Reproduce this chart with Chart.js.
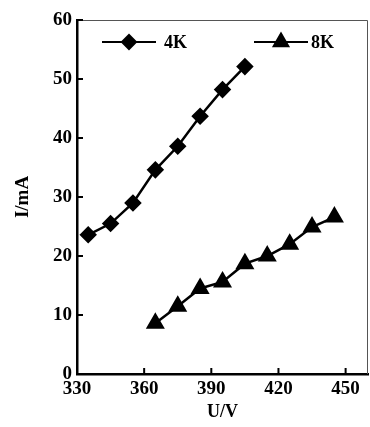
<!DOCTYPE html>
<html>
<head>
<meta charset="utf-8">
<script src="https://cdn.jsdelivr.net/npm/chart.js@4/dist/chart.umd.min.js"></script>
<style>
    html, body { margin: 0; padding: 0; background: #fff; overflow: hidden; }
    #wrap { width: 379px; height: 427px; }
</style>
</head>
<body>
<div id="wrap"><canvas id="ivChart"></canvas></div>
<script>
// ======================
// DATA
// ======================
const voltage4K = [335, 345, 355, 365, 375, 385, 395, 405];
const current4K = [23.6, 25.5, 29.0, 34.6, 38.6, 43.7, 48.2, 52.1];

const voltage8K = [365, 375, 385, 395, 405, 415, 425, 435, 445];
const current8K = [8.6, 11.5, 14.5, 15.6, 18.7, 20.0, 22.0, 24.9, 26.6];

const xTicks = [330, 360, 390, 420, 450];
const yTicks = [0, 10, 20, 30, 40, 50, 60];

const seriesNames = ["4K", "8K"];


// ======================
// HELPERS
// ======================
const serif = "'Liberation Serif', 'Times New Roman', serif";
const toPoints = (xs, ys) => xs.map((x, i) => ({ x: x, y: ys[i] }));


// ======================
// FRAME, INWARD TICKS, LEGEND
// ======================
const framePlugin = {
    id: "frame",
    afterDraw(chart) {
        const ctx = chart.ctx;
        const a = chart.chartArea;
        const xs = chart.scales.x;
        const ys = chart.scales.y;

        ctx.save();
        // thin top and right border
        ctx.strokeStyle = "#555";
        ctx.lineWidth = 1;
        ctx.beginPath();
        ctx.moveTo(a.left, a.top + 0.5);
        ctx.lineTo(a.right - 0.5, a.top + 0.5);
        ctx.lineTo(a.right - 0.5, a.bottom);
        ctx.stroke();

        // inward tick marks
        ctx.strokeStyle = "#000";
        ctx.lineWidth = 2;
        ctx.beginPath();
        xTicks.forEach(v => {
            const px = xs.getPixelForValue(v);
            ctx.moveTo(px, a.bottom);
            ctx.lineTo(px, a.bottom - 6);
        });
        yTicks.forEach(v => {
            const py = ys.getPixelForValue(v);
            ctx.moveTo(a.left, py);
            ctx.lineTo(a.left + 6, py);
        });
        ctx.stroke();

        // legend inside the plot
        const ly = a.top + 22;
        const items = [
            { x0: a.left + 25, gap: 62, ds: chart.data.datasets[0] },
            { x0: a.left + 177, gap: 57, ds: chart.data.datasets[1] }
        ];
        items.forEach(it => {
            ctx.strokeStyle = "#000";
            ctx.lineWidth = 2;
            ctx.beginPath();
            ctx.moveTo(it.x0, ly);
            ctx.lineTo(it.x0 + 54, ly);
            ctx.stroke();
            ctx.fillStyle = "#000";
            Chart.helpers.drawPoint(ctx, {
                pointStyle: it.ds.pointStyle,
                radius: it.ds.pointRadius,
                rotation: 0,
                borderWidth: 1
            }, it.x0 + 27, ly);
            ctx.font = "bold 18px " + serif;
            ctx.textBaseline = "middle";
            ctx.textAlign = "left";
            ctx.fillText(it.ds.label, it.x0 + it.gap, ly + 1);
        });
        ctx.restore();
    }
};


// ======================
// CHART SETUP
// ======================
const ivChart = new Chart(document.getElementById("ivChart"), {
    type: "line",
    data: {
        datasets: [
            {
                label: seriesNames[0],
                data: toPoints(voltage4K, current4K),
                borderColor: "#000",
                backgroundColor: "#000",
                borderWidth: 2.5,
                pointStyle: "rectRot",
                pointRadius: 7,
                pointBackgroundColor: "#000",
                pointBorderColor: "#000"
            },
            {
                label: seriesNames[1],
                data: toPoints(voltage8K, current8K),
                borderColor: "#000",
                backgroundColor: "#000",
                borderWidth: 2.5,
                pointStyle: "triangle",
                pointRadius: 8.5,
                pointBackgroundColor: "#000",
                pointBorderColor: "#000"
            }
        ]
    },
    options: {
        responsive: true,
        maintainAspectRatio: false,
        animation: false,
        layout: { padding: { top: 20, right: 2, left: 12, bottom: 4 } },
        plugins: {
            legend: { display: false },
            tooltip: { enabled: false }
        },
        scales: {
            x: {
                type: "linear",
                min: 330,
                max: 460,
                afterBuildTicks: s => { s.ticks = xTicks.map(v => ({ value: v })); },
                afterFit: s => {
                    s.height = 427 - 374 - 4;
                    s.paddingLeft = 0;
                    s.paddingRight = 0;
                },
                grid: { display: true, drawOnChartArea: false, drawTicks: false },
                border: { color: "#000", width: 2.5 },
                ticks: {
                    color: "#000",
                    padding: 4,
                    maxRotation: 0,
                    font: { family: serif, size: 19, weight: "bold" }
                },
                title: {
                    display: true,
                    text: "U/V",
                    color: "#000",
                    padding: { top: 2, bottom: 0 },
                    font: { family: serif, size: 18, weight: "bold" }
                }
            },
            y: {
                type: "linear",
                min: 0,
                max: 60,
                afterBuildTicks: s => { s.ticks = yTicks.map(v => ({ value: v })); },
                afterFit: s => { s.width = 77 - 12; },
                grid: { display: true, drawOnChartArea: false, drawTicks: false },
                border: { color: "#000", width: 2.5 },
                ticks: {
                    color: "#000",
                    padding: 5,
                    font: { family: serif, size: 19, weight: "bold" }
                },
                title: {
                    display: true,
                    text: "I/mA",
                    color: "#000",
                    padding: { top: 0, bottom: 0 },
                    font: { family: serif, size: 19, weight: "bold" }
                }
            }
        }
    },
    plugins: [framePlugin]
});
</script>
</body>
</html>
